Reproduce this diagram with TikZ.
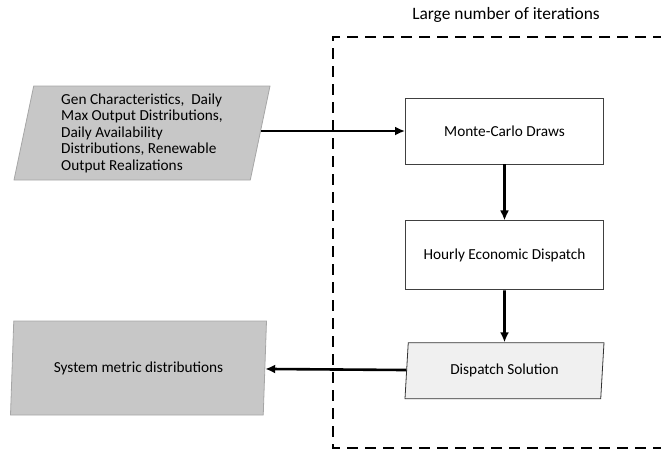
\documentclass[tikz,border=0pt]{standalone}
\usepackage{fontspec}
\setmainfont{Carlito}
\usetikzlibrary{shapes.geometric,arrows.meta,positioning}
\tikzset{
block/.style = {draw=black!75, fill=white, rectangle, line width=0.9pt, minimum width=198pt, minimum height=66pt, font=\fontsize{15.3}{16.5}\selectfont},
data/.style  = {draw=black!35, fill=black!22, trapezium, trapezium left angle=76, trapezium right angle=104, trapezium stretches body, line width=0.8pt, minimum width=256pt, minimum height=94pt, inner sep=0pt, font=\fontsize{15.3}{16.5}\selectfont},
sol/.style   = {data, draw=black!80, fill=black!6, minimum width=199pt, minimum height=56pt},
loopbox/.style = {line width=2pt, dash pattern=on 11pt off 7pt},
flow/.style  = {->, line width=2.6pt}
}
\begin{document}
\begin{tikzpicture}[x=1pt, y=-1pt, >={Latex[length=10pt,width=9pt]}]
  \useasboundingbox (0,0) rectangle (661,451);

  % iteration loop
  \draw [loopbox] (700,37) -- (333,37) -- (333,448) -- (700,448);
  \node [font=\fontsize{17.4}{20}\selectfont] (iter) at (506,15) {Large number of iterations};

  \node [data, align=left]  (inputs)  at (142,133)   {Gen Characteristics,\ \ Daily\\Max Output Distributions,\\Daily Availability\\Distributions, Renewable\\Output Realizations};
  \node [block]             (mc)      at (504.5,131) {Monte-Carlo Draws};
  \node [block, below=56pt of mc, minimum height=69pt] (ed) {Hourly Economic Dispatch};
  \node [sol, below=52pt of ed]       (dsol)     {Dispatch Solution};
  \node [data]              (metrics) at (138.5,368) {System metric distributions};

  \draw [flow] (inputs.east |- mc.west) -- (mc.west);
  \draw [flow] (mc) -- (ed);
  \draw [flow] (ed) -- (dsol);
  \draw [flow] (dsol) -- (metrics);
\end{tikzpicture}
\end{document}
